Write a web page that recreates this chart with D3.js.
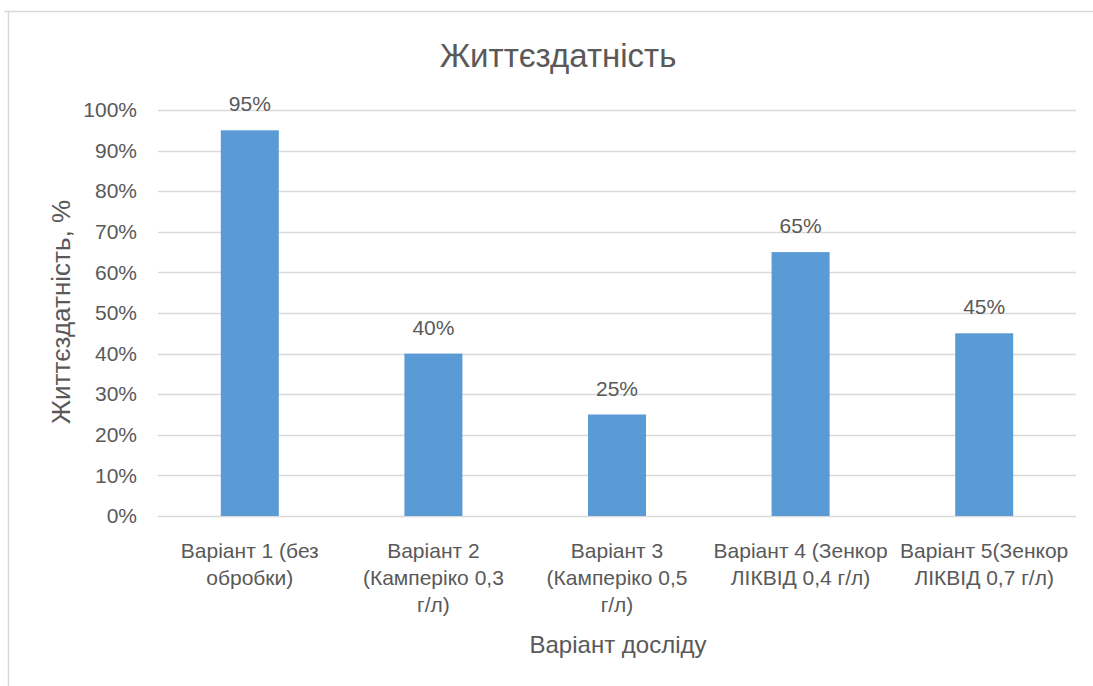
<!DOCTYPE html>
<html><head><meta charset="utf-8">
<script src="https://cdn.jsdelivr.net/npm/d3@7"></script>
<style>body{margin:0;background:#fff;}svg{display:block;font-family:"Liberation Sans",Arial,sans-serif;}</style>
</head><body>
<svg id="c" width="1093" height="686"></svg>
<script>
const categories = [
  ["Варіант 1 (без", "обробки)"],
  ["Варіант 2", "(Камперіко 0,3", "г/л)"],
  ["Варіант 3", "(Камперіко 0,5", "г/л)"],
  ["Варіант 4 (Зенкор", "ЛІКВІД 0,4 г/л)"],
  ["Варіант 5(Зенкор", "ЛІКВІД 0,7 г/л)"]
];
const values = [0.95, 0.40, 0.25, 0.65, 0.45];
const yTicks = [0, 0.1, 0.2, 0.3, 0.4, 0.5, 0.6, 0.7, 0.8, 0.9, 1.0];
const chartTitle = "Життєздатність";
const yTitle = "Життєздатність, %";
const xTitle = "Варіант досліду";

const svg = d3.select("#c");
const txt = "#595959";
const pLeft = 158, pRight = 1076, pTop = 110, pBottom = 516;

// chart border
svg.append("line").attr("x1",4).attr("x2",1093).attr("y1",11.5).attr("y2",11.5).attr("stroke","#d9d9d9").attr("stroke-width",1.5);
svg.append("line").attr("x1",8.5).attr("x2",8.5).attr("y1",11).attr("y2",686).attr("stroke","#d9d9d9").attr("stroke-width",1.5);

const idx = categories.map((d,i)=>i);
const x = d3.scaleBand().domain(idx).range([pLeft,pRight]).paddingInner(0.684).paddingOuter(0.342);
const y = d3.scaleLinear().domain([0,1]).range([pBottom, pTop]);

// gridlines
svg.append("g").selectAll("line").data(yTicks).join("line")
  .attr("x1",pLeft).attr("x2",pRight)
  .attr("y1",d=>Math.round(y(d))+0.5).attr("y2",d=>Math.round(y(d))+0.5)
  .attr("stroke","#d9d9d9").attr("stroke-width",1.3);

// y axis labels
const yAxis = d3.axisLeft(y).tickValues(yTicks).tickFormat(d3.format(".0%")).tickSize(0).tickPadding(0);
const gy = svg.append("g").attr("transform",`translate(137,0)`).call(yAxis);
gy.select(".domain").remove();
gy.selectAll("text").attr("fill",txt).attr("font-size",21).attr("font-family","Liberation Sans, Arial, sans-serif");

// bars
svg.append("g").selectAll("rect").data(values).join("rect")
  .attr("x",(d,i)=>x(i)).attr("width",x.bandwidth())
  .attr("y",d=>y(d)).attr("height",d=>y(0)-y(d))
  .attr("fill","#5b9bd5");

// data labels
svg.append("g").selectAll("text").data(values).join("text")
  .attr("x",(d,i)=>x(i)+x.bandwidth()/2).attr("y",d=>y(d)-19)
  .attr("text-anchor","middle").attr("fill",txt).attr("font-size",21)
  .text(d=>d3.format(".0%")(d));

// category labels
const cg = svg.append("g").selectAll("text").data(categories).join("text")
  .attr("text-anchor","middle").attr("fill",txt).attr("font-size",21)
  .attr("x",(d,i)=>x(i)+x.bandwidth()/2).attr("y",558);
cg.selectAll("tspan").data(d=>d).join("tspan")
  .attr("x",function(){return this.parentNode.getAttribute("x");})
  .attr("dy",(d,j)=>j===0?0:27).text(d=>d);

// title
svg.append("text").attr("x",558).attr("y",67).attr("text-anchor","middle")
  .attr("fill",txt).attr("font-size",33).text(chartTitle);

// axis titles
svg.append("text").attr("x",618).attr("y",653).attr("text-anchor","middle")
  .attr("fill",txt).attr("font-size",24).text(xTitle);
svg.append("text").attr("transform","translate(70,312) rotate(-90)").attr("text-anchor","middle")
  .attr("fill",txt).attr("font-size",26).text(yTitle);
</script>
</body></html>
